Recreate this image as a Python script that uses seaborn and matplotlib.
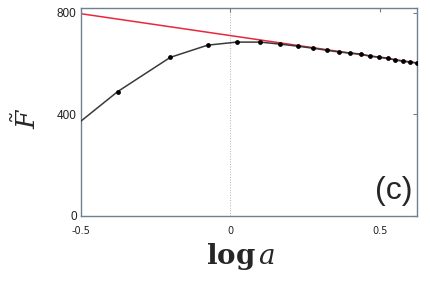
import numpy as np
import pandas as pd
import seaborn as sns
import matplotlib.pyplot as plt

# lattice spacing a and free energy
a_vals = [0.21, 0.42, 0.63, 0.84, 1.05, 1.26, 1.47, 1.68, 1.89, 2.10,
          2.31, 2.52, 2.73, 2.94, 3.15, 3.36, 3.57, 3.78, 3.99, 4.20]
f_vals = [205, 490, 625, 673, 685, 685, 677, 669, 661, 653,
          646, 642, 638, 630, 626, 622, 614, 610, 606, 603]

# straight red reference line (end points)
fit_x = [-0.5, 0.625]
fit_y = [797, 603]

df = pd.DataFrame({'loga': np.log10(a_vals), 'F': f_vals})

sns.set_style('white')
plt.rcParams['mathtext.fontset'] = 'dejavuserif'

fig = plt.figure(figsize=(4.3, 2.91), dpi=100)
ax = fig.add_axes([0.188, 0.258, 0.782, 0.715])

ax.axvline(0, color='#b0b0b0', lw=0.7, ls=':', zorder=0)
sns.lineplot(x=fit_x, y=fit_y, color='#e8283c', lw=1.1, ax=ax, zorder=2)
sns.lineplot(data=df, x='loga', y='F', color='#3a3a3a', lw=1.1, ax=ax, zorder=3)
sns.scatterplot(data=df, x='loga', y='F', color='black', s=12, linewidth=0, ax=ax, zorder=4)

ax.set_xlim(-0.5, 0.625)
ax.set_ylim(0, 820)
ax.set_xticks([-0.5, 0, 0.5])
ax.set_xticklabels(['-0.5', '0', '0.5'])
ax.set_yticks([0, 400, 800])
ax.tick_params(direction='in', length=3, width=0.8, color='#708090',
               top=True, right=True, pad=3, labelcolor='#222222')
ax.tick_params(axis='x', pad=7)
for lab in ax.get_xticklabels():
    lab.set_fontsize(7)
for lab in ax.get_yticklabels():
    lab.set_fontsize(8.5)
    lab.set_family('Liberation Sans')
for sp in ax.spines.values():
    sp.set_color('#708090')
    sp.set_linewidth(1)

ax.set_xlabel(r'$\mathbf{log}\,a$', fontsize=20)
ax.xaxis.set_label_coords(0.475, -0.12, transform=ax.transAxes)
ax.xaxis.label.set_va('top')
ax.set_ylabel(r'$\boldsymbol{\tilde{F}}$', fontsize=19)
ax.yaxis.set_label_coords(-0.115, 0.47, transform=ax.transAxes)
ax.text(0.985, 0.05, '(c)', transform=ax.transAxes, ha='right', va='bottom',
        fontsize=23, family='Liberation Sans')

fig.savefig('out.png', dpi=100)
